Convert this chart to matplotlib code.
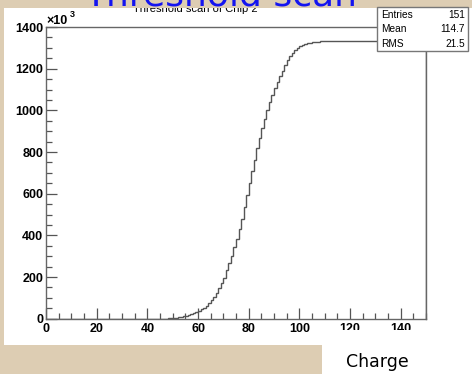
import numpy as np
import matplotlib
matplotlib.use("Agg")
import matplotlib.pyplot as plt
from matplotlib.patches import Rectangle, Polygon
from matplotlib.ticker import MultipleLocator

# Cumulative hit count (in thousands) per 1-unit charge bin, 0..150
counts_k = [
    0, 0, 0, 0, 0, 0, 0, 0, 0, 0,
    0, 0, 0, 0, 0, 0, 0, 0, 0, 0,
    0, 0, 0, 0, 0, 0, 0, 0, 0, 0,
    0, 0, 0, 0, 0, 0, 0, 0, 0, 0,
    0, 0, 0, 0, 0, 0, 0, 0, 1, 2,
    3, 4, 6, 8, 11, 14, 18, 22, 27, 32,
    38, 45, 53, 63, 75, 90, 106, 124, 146, 170,
    196, 232, 265, 302, 342, 384, 430, 480, 535, 592,
    650, 708, 764, 818, 868, 916, 960, 1002, 1040, 1075,
    1108, 1138, 1166, 1191, 1218, 1240, 1260, 1276, 1289, 1299,
    1307, 1313, 1318, 1322, 1325, 1327, 1329, 1330, 1331, 1332,
    1332, 1332, 1332, 1332, 1332, 1332, 1332, 1332, 1332, 1332,
    1332, 1332, 1332, 1332, 1332, 1332, 1332, 1332, 1332, 1332,
    1332, 1332, 1332, 1332, 1332, 1332, 1332, 1332, 1332, 1332,
    1332, 1332, 1332, 1332, 1332, 1332, 1332, 1332, 1332, 1332,
]
bin_edges = np.arange(0, 151)

x_ticks = [0, 20, 40, 60, 80, 100, 120, 140]
y_ticks = [0, 200, 400, 600, 800, 1000, 1200, 1400]

stats_names = ["Entries", "Mean", "RMS"]
stats_values = ["151", "114.7", "21.5"]

W, H = 472, 374
BEIGE = "#ddcdb3"


def fx(px):
    return px / W


def fy(py):
    return 1 - py / H


fig = plt.figure(figsize=(W / 100, H / 100), dpi=100)
fig.patch.set_facecolor(BEIGE)

# White canvas with the lower-left corner cut away
panel = Polygon(
    [(fx(4), fy(8)), (fx(472), fy(8)), (fx(472), fy(374)), (fx(322), fy(374)),
     (fx(322), fy(345)), (fx(4), fy(345))],
    closed=True, transform=fig.transFigure, facecolor="white",
    edgecolor="none", zorder=0)
fig.add_artist(panel)

ax = fig.add_axes([fx(46), fy(318.7), fx(426) - fx(46), fy(27) - fy(318.7)])
ax.set_facecolor("white")
ax.stairs(counts_k, bin_edges, color="#555555", linewidth=1.0)

ax.set_xlim(0, 150)
ax.set_ylim(0, 1400)
ax.xaxis.set_major_locator(MultipleLocator(20))
ax.xaxis.set_minor_locator(MultipleLocator(5))
ax.yaxis.set_major_locator(MultipleLocator(200))
ax.yaxis.set_minor_locator(MultipleLocator(50))
ax.set_xticks(x_ticks)
ax.set_yticks(y_ticks)
ax.set_xticklabels([str(v) for v in x_ticks])
ax.set_yticklabels([str(v) for v in y_ticks])
ax.tick_params(which="both", direction="in", top=False, right=False,
               color="#555555", width=0.9)
ax.tick_params(which="major", length=8)
ax.tick_params(which="minor", length=4)
ax.tick_params(axis="x", pad=3)
ax.tick_params(axis="y", pad=2)
for lab in ax.get_xticklabels() + ax.get_yticklabels():
    lab.set_fontfamily("Liberation Sans")
    lab.set_fontweight("bold")
    lab.set_fontsize(9)
for sp in ax.spines.values():
    sp.set_color("#666666")
    sp.set_linewidth(1.0)

# Exponent marker above the y axis
fig.text(fx(46), fy(24), "\u00d710", fontsize=9, fontweight="bold",
         family="Liberation Sans", ha="left", va="baseline")
fig.text(fx(70), fy(17), "3", fontsize=6.5, fontweight="bold",
         family="Liberation Sans", ha="left", va="baseline")

# Histogram title (partly covered by the header band)
fig.text(fx(195), fy(12.5), "Threshold scan of Chip 2", fontsize=8,
         family="Liberation Sans", ha="center", va="baseline", color="black",
         zorder=3)
fig.add_artist(Rectangle((0, fy(8)), 1, 1 - fy(8), transform=fig.transFigure,
                         facecolor=BEIGE, edgecolor="none", zorder=4))

# Slide header
fig.text(fx(221), fy(6), "Threshold scan", fontsize=26, color="#1414f0",
         family="DejaVu Sans", ha="center", va="baseline", zorder=5)

# Caption block that overlaps the lower right tick labels
fig.add_artist(Rectangle((fx(322), 0), 1 - fx(322), fy(329.5),
                         transform=fig.transFigure, facecolor="white",
                         edgecolor="none", zorder=6))

# Statistics box
box = Rectangle((fx(377), fy(50.5)), fx(468) - fx(377), fy(7.5) - fy(50.5),
                transform=fig.transFigure, facecolor="white",
                edgecolor="#777777", linewidth=1.0, zorder=6)
fig.add_artist(box)
for i, (name, val) in enumerate(zip(stats_names, stats_values)):
    yb = fy(18 + i * 14.3)
    fig.text(fx(381), yb, name, fontsize=7.3, family="Liberation Sans",
             ha="left", va="baseline", zorder=7)
    fig.text(fx(465), yb, val, fontsize=7.3, family="Liberation Sans",
             ha="right", va="baseline", zorder=7)

# Axis caption
fig.text(fx(346), fy(367), "Charge", fontsize=12.5, family="DejaVu Sans",
         ha="left", va="baseline", color="black", zorder=7)

fig.savefig("out.png", dpi=100, facecolor=fig.get_facecolor())
